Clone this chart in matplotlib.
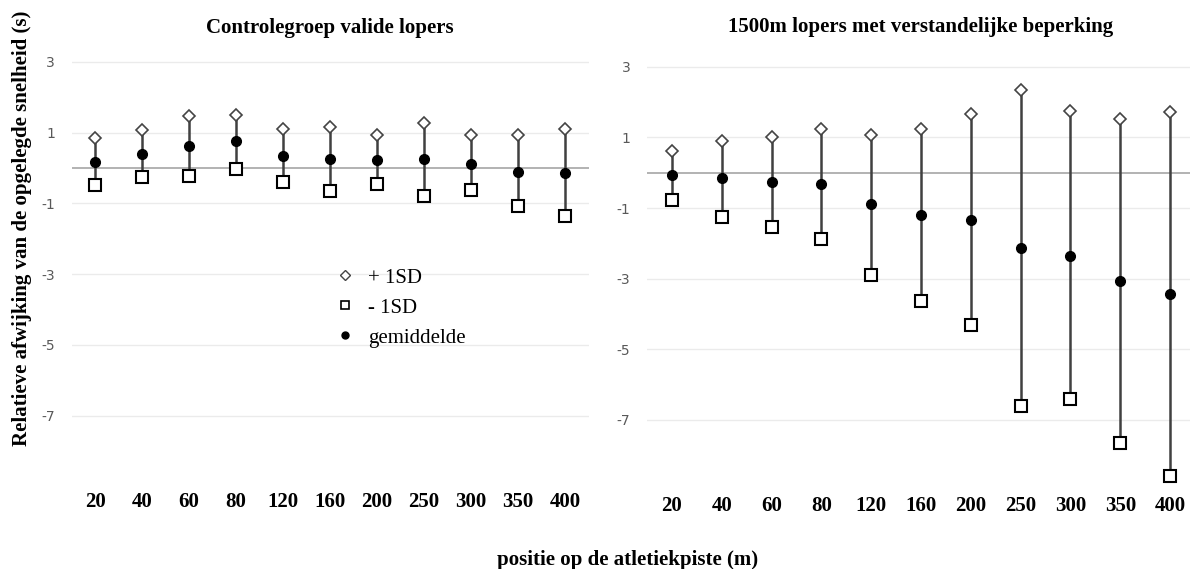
import matplotlib
matplotlib.use("Agg")
import matplotlib.pyplot as plt
from matplotlib.lines import Line2D
import numpy as np

# positie op de atletiekpiste (m)
posities = ["20", "40", "60", "80", "120", "160", "200", "250", "300", "350", "400"]

# controlegroep valide lopers
ctrl_plus = [0.84, 1.07, 1.47, 1.50, 1.11, 1.17, 0.92, 1.28, 0.92, 0.92, 1.11]
ctrl_mean = [0.16, 0.39, 0.61, 0.75, 0.35, 0.26, 0.23, 0.26, 0.12, -0.10, -0.14]
ctrl_min = [-0.47, -0.26, -0.22, -0.02, -0.39, -0.64, -0.45, -0.78, -0.63, -1.07, -1.36]

# 1500m lopers met verstandelijke beperking
vb_plus = [0.61, 0.91, 1.02, 1.25, 1.06, 1.25, 1.66, 2.33, 1.74, 1.51, 1.71]
vb_mean = [-0.07, -0.16, -0.26, -0.33, -0.90, -1.20, -1.34, -2.13, -2.36, -3.07, -3.44]
vb_min = [-0.76, -1.25, -1.54, -1.88, -2.89, -3.64, -4.31, -6.60, -6.41, -7.66, -8.59]

yticks = [3, 1, -1, -3, -5, -7]

SERIF = "Liberation Serif"
W, H = 1190, 569
YMIN, YMAX = -9.0, 3.6

fig = plt.figure(figsize=(W / 100, H / 100), dpi=100)


def px_axes(x0, x1, ytop, ybot):
    return [x0 / W, 1 - ybot / H, (x1 - x0) / W, (ybot - ytop) / H]


# pixel positions: zero line and scale per panel
ax1 = fig.add_axes(px_axes(71.5, 588.5, 168 - 35.4 * YMAX, 168 - 35.4 * YMIN))
ax2 = fig.add_axes(px_axes(647, 1195, 172.7 - 35.3 * YMAX, 172.7 - 35.3 * YMIN))


def draw_panel(ax, plus, mean, minus, title, tpad):
    x = np.arange(len(posities))
    ax.set_xlim(-0.5, len(posities) - 0.5)
    ax.set_ylim(YMIN, YMAX)
    for t in yticks:
        ax.axhline(t, color="#ebebeb", lw=1, zorder=0)
    ax.axhline(0, color="#a6a6a6", lw=1.2, zorder=1)
    ax.vlines(x, minus, plus, color="#404040", lw=1.8, zorder=2)
    ax.plot(x, mean, "o", ms=7, color="black", zorder=3)
    ax.plot(x, minus, "s", ms=8, mfc="white", mec="black", mew=1.5, zorder=4)
    ax.plot(x, plus, "D", ms=6.5, mfc="white", mec="#444444", mew=1.2, zorder=4)
    ax.set_xticks(x)
    ax.set_xticklabels(posities, fontfamily=SERIF, fontweight="bold", fontsize=15)
    ax.set_yticks(yticks)
    ax.set_yticklabels([str(t) for t in yticks], color="#595959", fontsize=10)
    ax.tick_params(length=0)
    ax.tick_params(axis="x", pad=4)
    ax.tick_params(axis="y", pad=12)
    for s in ax.spines.values():
        s.set_visible(False)
    ax.set_title(title, fontfamily=SERIF, fontweight="bold", fontsize=15, pad=tpad)


draw_panel(ax1, ctrl_plus, ctrl_mean, ctrl_min, "Controlegroep valide lopers", 5.5)
draw_panel(ax2, vb_plus, vb_mean, vb_min, "1500m lopers met verstandelijke beperking", 10)

fig.text(22 / W, 1 - 228.5 / H, "Relatieve afwijking van de opgelegde snelheid (s)",
         rotation=90, ha="center", va="center", fontfamily=SERIF, fontweight="bold", fontsize=15)
fig.text(628 / W, 1 - 560 / H, "positie op de atletiekpiste (m)",
         ha="center", va="center", fontfamily=SERIF, fontweight="bold", fontsize=15)

handles = [
    Line2D([], [], ls="none", marker="D", ms=5, mfc="white", mec="#444444", mew=1),
    Line2D([], [], ls="none", marker="s", ms=6, mfc="white", mec="black", mew=1.2),
    Line2D([], [], ls="none", marker="o", ms=5, color="black"),
]
fig.legend(handles, ["+ 1SD", "- 1SD", "gemiddelde"], loc="upper left",
           bbox_to_anchor=(335 / W, 1 - 268 / H), frameon=False,
           prop={"family": SERIF, "size": 15}, handlelength=1, handletextpad=0.6,
           labelspacing=0.5, borderaxespad=0, borderpad=0)

fig.savefig("out.png", dpi=100, facecolor="white")
